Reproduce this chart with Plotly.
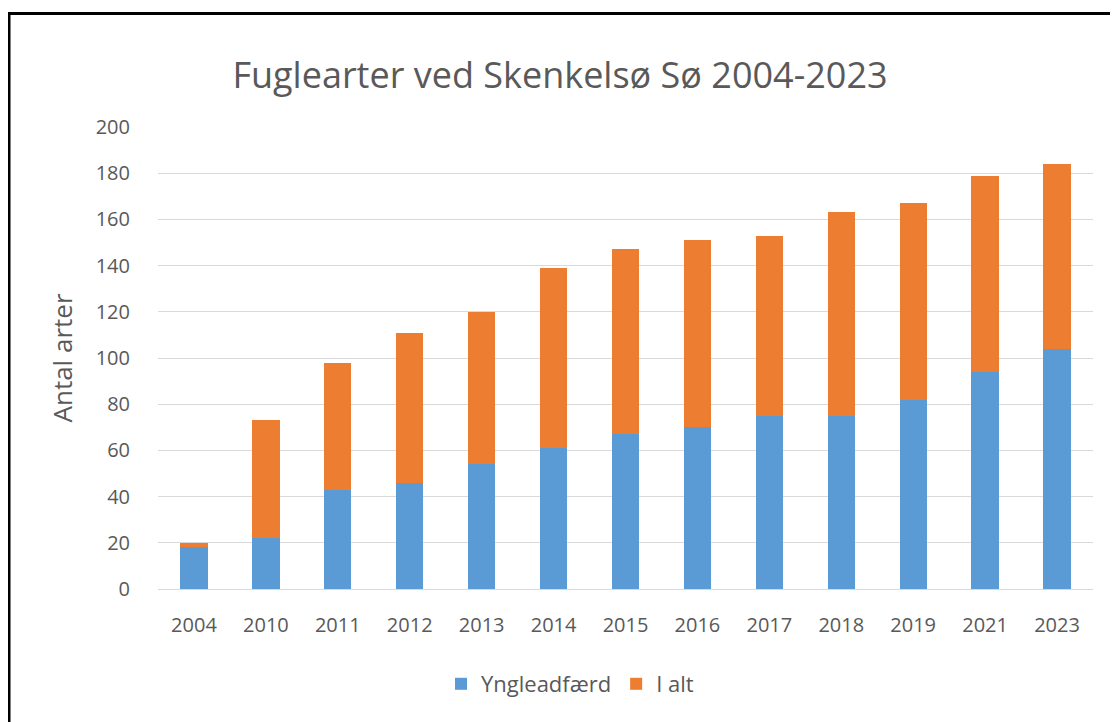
import plotly.graph_objects as go

years = ["2004", "2010", "2011", "2012", "2013", "2014", "2015",
         "2016", "2017", "2018", "2019", "2021", "2023"]
yngle = [18, 22, 43, 46, 54, 61, 67, 70, 75, 75, 82, 94, 104]
i_alt_total = [20, 73, 98, 111, 120, 139, 147, 151, 153, 163, 167, 179, 184]
i_alt_segment = [t - y for t, y in zip(i_alt_total, yngle)]

# page has an 8px body margin, so the figure is drawn at offset (8, 8)
OFF = 8
W, H = 1118 - OFF, 722 - OFF
L, R, T, B = 158 - OFF, 25, 127 - OFF, 133
pw = W - L - R
ph = H - T - B

grey = "#595959"
font_main = "Open Sans"

fig = go.Figure()
fig.add_trace(go.Bar(x=years, y=yngle, name="Yngleadfærd",
                     marker=dict(color="#5b9bd5", line=dict(width=0))))
fig.add_trace(go.Bar(x=years, y=i_alt_segment, name="I alt",
                     customdata=i_alt_total,
                     hovertemplate="%{x}: %{customdata}<extra>I alt</extra>",
                     marker=dict(color="#ed7d31", line=dict(width=0))))

# convert page pixel positions of the reference into paper coordinates
px_x = lambda p: (p - OFF - L) / pw
px_y = lambda p: (H - B - (p - OFF)) / ph

fig.update_layout(
    width=W, height=H,
    barmode="stack", bargap=0.62,
    paper_bgcolor="white", plot_bgcolor="white",
    margin=dict(l=L, r=R, t=T, b=B),
    title=dict(text="Fuglearter ved Skenkelsø Sø 2004-2023",
               x=(560 - OFF) / W, xanchor="center", xref="container",
               y=1 - (75 - OFF) / H, yanchor="middle", yref="container",
               font=dict(family=font_main, size=36, color=grey)),
    font=dict(family=font_main, color=grey),
    showlegend=True,
    legend=dict(orientation="h", x=px_x(570), xanchor="center",
                y=px_y(684), yanchor="middle",
                font=dict(family=font_main, size=22, color=grey),
                traceorder="normal", itemwidth=30),
    xaxis=dict(type="category", showgrid=False, showline=True,
               linecolor="#d9d9d9", linewidth=1, ticks="",
               tickfont=dict(family=font_main, size=20, color=grey),
               ticklabelstandoff=18),
    yaxis=dict(range=[0, 200], dtick=20, showgrid=True, gridcolor="#d9d9d9",
               gridwidth=1, zeroline=False, showline=False, ticks="",
               tickfont=dict(family=font_main, size=20, color=grey),
               ticklabelstandoff=27,
               title=dict(text="Antal arter", standoff=15,
                          font=dict(family=font_main, size=26, color=grey))),
    shapes=[
        dict(type="line", xref="paper", yref="paper",
             x0=px_x(8), x1=px_x(1130), y0=px_y(13.5), y1=px_y(13.5),
             line=dict(color="black", width=3)),
        dict(type="line", xref="paper", yref="paper",
             x0=px_x(9), x1=px_x(9), y0=px_y(13.5), y1=px_y(740),
             line=dict(color="black", width=3)),
    ],
)

fig.write_html("out.html")
